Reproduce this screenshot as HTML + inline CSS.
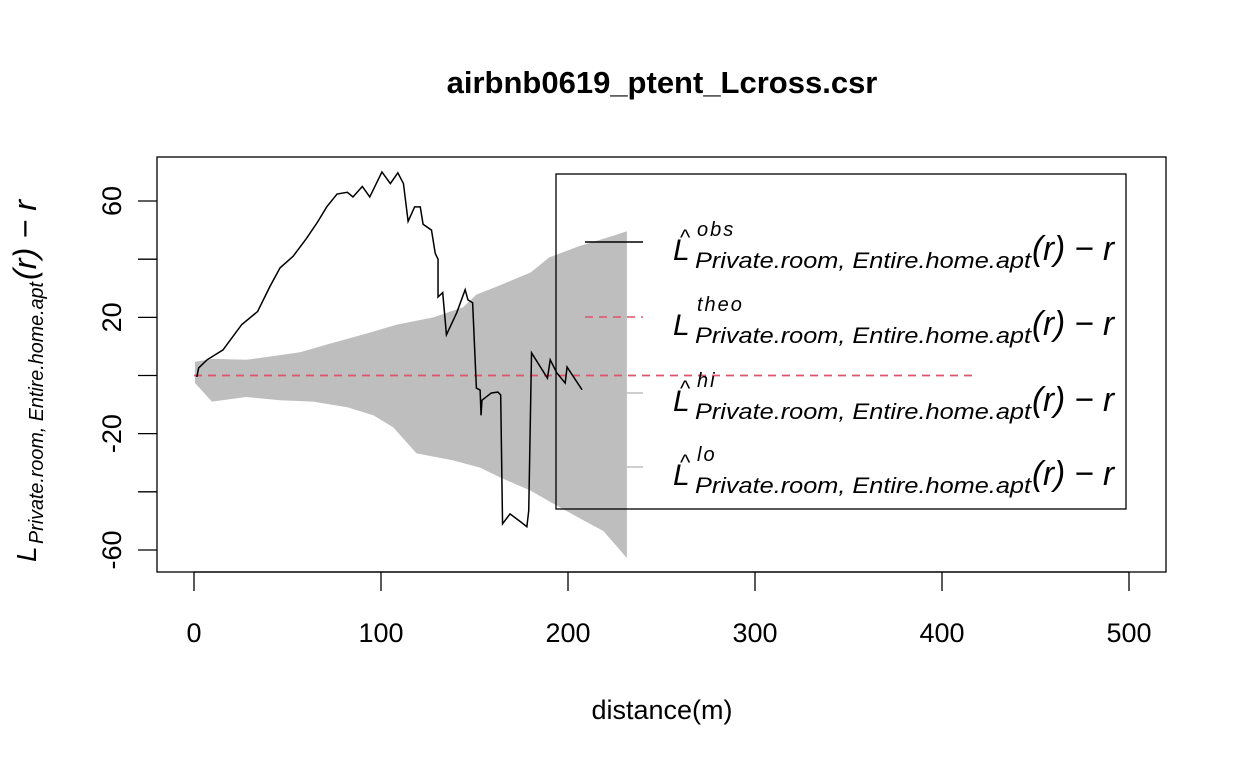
<!DOCTYPE html>
<html><head><meta charset="utf-8"><style>
body{margin:0;background:#fff}
svg{display:block}
text{font-family:"Liberation Sans",sans-serif}
</style></head><body>
<svg id="chart" width="1248" height="768" viewBox="0 0 1248 768">
<rect width="1248" height="768" fill="#fff"/>
<text x="662" y="93" font-size="31" font-weight="bold" text-anchor="middle">airbnb0619_ptent_Lcross.csr</text>
<g id="plot"></g>
<rect x="157" y="157" width="1009" height="415" fill="none" stroke="#000" stroke-width="1.3"/>
<g id="axes"></g>
<text x="662" y="719" font-size="27" text-anchor="middle">distance(m)</text>
<g transform="translate(36,562) rotate(-90)">
<text x="0" y="0" font-size="28" font-style="italic">L</text>
<text x="18" y="7" font-size="20" font-style="italic" textLength="262" lengthAdjust="spacingAndGlyphs">Private.room, Entire.home.apt</text>
<text x="282" y="0" font-size="32" font-family="Liberation Serif" font-style="italic" textLength="80" lengthAdjust="spacingAndGlyphs">(r) − r</text>
</g>
<g id="legend">
<rect x="556" y="174" width="570" height="335" fill="none" stroke="#000" stroke-width="1.3"/>
</g>
</svg>
<script>
const obsR=[1.5,2.5,7,15.5,25.5,34,40.6,46,53,60,66,71,76.5,82,85,90,94,100.5,105,109,112,114.5,118,121,122.5,127,129,130.5,130.5,133,135,140.5,145,146.5,149,151,153,153.5,154,159,162.5,164,165,169,174,178,179,180.5,189,190.5,194,198.5,199.5,207.5];
const obsV=[-0.5,2.6,5.4,8.8,17.5,22,30.6,37,41,47,52.7,58,62.4,63,61.4,65,61.4,70,66,69.7,66,53,58,58,52,50,42,40,27,28.5,14,21.6,29.5,26,25,-4.3,-5,-13.7,-8.5,-6,-5.7,-6.7,-51,-47.6,-50,-52,-46.5,7.8,-0.9,5.4,0.9,-2.6,2.9,-4.9];
const hiR=[0.5,10,28,46,56.7,73,90,108.5,128,144,151,162,180,190,206,224,231.5];
const hiV=[4.7,5.7,5.4,7,8,11,14,17.5,20,23.5,27.8,30.6,35.4,40.6,44.5,48,49.6];
const loR=[0.5,9.6,28,46,63.6,82,96,106.5,119,138.5,153,163.5,180,192,206,219,231.5];
const loV=[-2.6,-9,-7.4,-8.5,-9,-10.9,-13.7,-17.8,-26.8,-29.2,-31.7,-35,-39.6,-44,-49,-53.5,-62.8];
const theoR=[0,417.6];
const theoV=[0,0];
const xTicks=[0,100,200,300,400,500];
const yTicks=[-60,-40,-20,0,20,40,60];
const yLabels=["-60","","-20","","20","","60"];
const legendLabels=["obs","theo","hi","lo"];

const NS="http://www.w3.org/2000/svg";
const X=r=>194+r*1.87;
const Y=v=>375.5-v*2.908;
function mk(tag,attrs,parent){const e=document.createElementNS(NS,tag);for(const k in attrs)e.setAttribute(k,attrs[k]);parent.appendChild(e);return e;}
const plot=document.getElementById('plot'),axes=document.getElementById('axes'),legend=document.getElementById('legend');

let d="M"+hiR.map((r,i)=>X(r)+","+Y(hiV[i])).join("L");
for(let i=loR.length-1;i>=0;i--)d+="L"+X(loR[i])+","+Y(loV[i]);
const band=mk('path',{d:d+"Z",fill:"#bebebe",stroke:"none"},plot);



const theo=mk('polyline',{points:theoR.map((r,i)=>X(r)+","+Y(theoV[i])).join(" "),fill:"none",stroke:"#df536b","stroke-width":1.8,"stroke-dasharray":"8 6"},plot);



const obs=mk('polyline',{points:obsR.map((r,i)=>X(r)+","+Y(obsV[i])).join(" "),fill:"none",stroke:"#000","stroke-width":1.5},plot);



mk('line',{x1:X(0),x2:X(500),y1:572,y2:572,stroke:"#000","stroke-width":1.3},axes);
xTicks.forEach(t=>{
  const l=mk('line',{x1:X(t),x2:X(t),y1:572,y2:591,stroke:"#000","stroke-width":1.3},axes);
  
  
  const tx=mk('text',{x:X(t),y:642,"font-size":27,"text-anchor":"middle"},axes);
  tx.textContent=t;
  
  
});
yTicks.forEach((t,i)=>{
  const l=mk('line',{x1:138,x2:157,y1:Y(t),y2:Y(t),stroke:"#000","stroke-width":1.3},axes);
  
  
  if(yLabels[i]){
    const tx=mk('text',{x:0,y:0,"font-size":27,"text-anchor":"middle",transform:`translate(121,${Y(t)}) rotate(-90)`},axes);
    tx.textContent=yLabels[i];
    
    
  }
});

const lineYs=[242,317,393,467];
const styles=[{stroke:"#000"},{stroke:"#df536b","stroke-dasharray":"8 6"},{stroke:"#bebebe"},{stroke:"#bebebe"}];
legendLabels.forEach((lab,i)=>{
  const y=lineYs[i];
  const g=mk('g',{},legend);
  
  
  mk('line',Object.assign({x1:585,x2:643,y1:y,y2:y,"stroke-width":1.5},styles[i]),g);
  const by=y+18;
  mk('text',{x:673,y:by,"font-size":30,"font-style":"italic"},g).textContent="L";
  if(i!==1) mk('text',{x:680,y:by-15,"font-size":22},g).textContent="^";
  const sup=mk('text',{x:697,y:by-24,"font-size":20,"font-style":"italic","letter-spacing":"2"},g);
  sup.textContent=lab;
  mk('text',{x:695,y:by+8,"font-size":22,"font-style":"italic",textLength:336,lengthAdjust:"spacingAndGlyphs"},g).textContent="Private.room, Entire.home.apt";
  mk('text',{x:1032,y:by,"font-size":34,"font-family":"Liberation Serif","font-style":"italic",textLength:82,lengthAdjust:"spacingAndGlyphs"},g).textContent="(r) − r";
});
</script>
</body></html>
